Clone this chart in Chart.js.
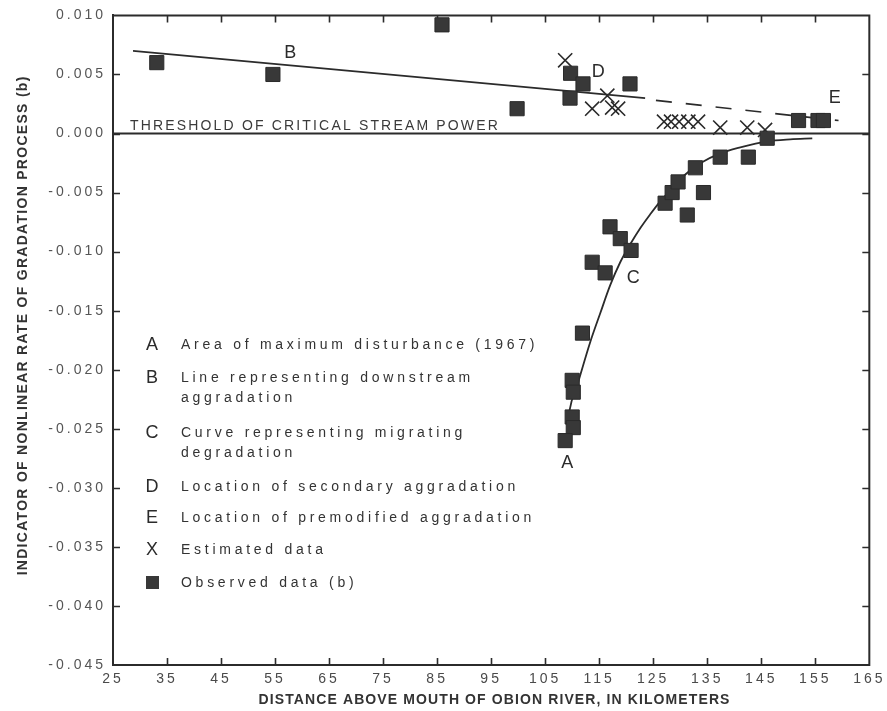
<!DOCTYPE html>
<html><head><meta charset="utf-8">
<script src="https://cdn.jsdelivr.net/npm/chart.js@4.4.1/dist/chart.umd.min.js"></script>
<style>html,body{margin:0;padding:0;background:#fff}canvas{display:block}</style>
</head><body>
<canvas id="c" width="887" height="711"></canvas>
<script>
// ---- axis settings ----
const xMin = 25, xMax = 165, xStep = 10;
const yMin = -0.045, yMax = 0.010, yStep = 0.005;

// ---- observed data (b), squares ----
const observedX = [33.1, 54.6, 85.9, 99.8, 109.7, 112.0, 109.6, 120.7, 151.9, 155.5, 156.5,
  111.9, 110.0, 110.2, 110.0, 110.2, 108.7, 113.7, 116.1, 117.0, 118.9, 120.9,
  127.2, 128.5, 129.6, 131.3, 132.8, 134.3, 137.4, 142.6, 146.1];
const observedY = [0.0060, 0.0050, 0.0092, 0.0021, 0.0051, 0.0042, 0.0030, 0.0042, 0.0011, 0.0011, 0.0011,
  -0.0169, -0.0209, -0.0219, -0.0240, -0.0249, -0.0260, -0.0109, -0.0118, -0.0079, -0.0089, -0.0099,
  -0.0059, -0.0050, -0.0041, -0.0069, -0.0029, -0.0050, -0.0020, -0.0020, -0.0004];

// ---- estimated data, X marks ----
const estimatedX = [108.7, 113.7, 116.5, 117.4, 118.5, 127.0, 128.3, 129.8, 131.5, 133.3, 137.4, 142.4, 145.7];
const estimatedY = [0.0062, 0.0021, 0.0032, 0.0022, 0.0021, 0.0010, 0.0010, 0.0010, 0.0010, 0.0010, 0.0005, 0.0005, 0.0003];

// ---- B: downstream aggradation line ----
const lineBX = [28.7, 123.5];
const lineBY = [0.0070, 0.0030];
// ---- dashed continuation toward E ----
const premodX = [125.5, 159.3];
const premodY = [0.0028, 0.0011];
// ---- C: migrating degradation curve ----
const curveCX = [109.2, 109.44, 111.11, 113.33, 115.19, 117.04, 118.89, 120.74, 122.59, 124.44, 126.30, 128.15, 130.56, 133.70, 137.41, 141.11, 146.11, 150.37, 154.44];
const curveCY = [-0.0245, -0.02359, -0.02105, -0.01767, -0.01522, -0.01284, -0.01090, -0.00938, -0.00802, -0.00684, -0.00574, -0.00481, -0.00362, -0.00252, -0.00168, -0.00117, -0.00066, -0.00049, -0.00041];
// ---- threshold of critical stream power ----
const thresholdX = [25, 165];
const thresholdY = [0, 0];

// ---- annotation letters (data coordinates) ----
const markLetters = ['A', 'B', 'C', 'D', 'E'];
const markX = [109.1, 57.8, 121.3, 114.8, 158.6];
const markY = [-0.0279, 0.0068, -0.0122, 0.0052, 0.0030];

// ---- texts ----
const legendKeys = ['A', 'B', 'C', 'D', 'E', 'X', '■'];
const legendTexts = [
  ['Area of maximum disturbance (1967)'],
  ['Line representing downstream', 'aggradation'],
  ['Curve representing migrating', 'degradation'],
  ['Location of secondary aggradation'],
  ['Location of premodified aggradation'],
  ['Estimated data'],
  ['Observed data (b)']
];
const thresholdLabel = 'THRESHOLD OF CRITICAL STREAM POWER';
const xTitle = 'DISTANCE ABOVE MOUTH OF OBION RIVER, IN KILOMETERS';
const yTitle = 'INDICATOR OF NONLINEAR RATE OF GRADATION PROCESS (b)';

function pts(xs, ys) { return xs.map((x, i) => ({ x: x, y: ys[i] })); }

const FONT = '"Liberation Sans", Arial, Helvetica, sans-serif';
const INK = '#2b2b2b';

function spacingFor(ctx, text, font, target) {
  ctx.letterSpacing = '0px';
  ctx.font = font;
  const w = ctx.measureText(text).width;
  return (target - w) / text.length;
}

const decor = {
  id: 'decor',
  beforeDraw(chart) {
    const ctx = chart.ctx;
    ctx.save();
    ctx.fillStyle = '#fff';
    ctx.fillRect(0, 0, chart.width, chart.height);
    ctx.restore();
    ctx.letterSpacing = '3px';
  },
  beforeDatasetsDraw(chart) {
    const ctx = chart.ctx;
    ctx.letterSpacing = '0px';
    const a = chart.chartArea;
    const xs = chart.scales.x, ys = chart.scales.y;
    ctx.save();
    ctx.strokeStyle = INK;
    ctx.lineWidth = 2;
    ctx.beginPath();
    ctx.moveTo(a.left - 1, a.top); ctx.lineTo(a.right, a.top); ctx.lineTo(a.right, a.bottom + 1);
    ctx.stroke();
    ctx.lineWidth = 1.6;
    ctx.beginPath();
    xs.ticks.forEach(t => {
      if (t.value <= xMin || t.value >= xMax) return;
      const px = Math.round(xs.getPixelForValue(t.value)) + 0.5;
      ctx.moveTo(px, a.bottom); ctx.lineTo(px, a.bottom - 7);
      ctx.moveTo(px, a.top); ctx.lineTo(px, a.top + 7);
    });
    ys.ticks.forEach(t => {
      if (t.value <= yMin + 1e-9 || t.value >= yMax - 1e-9) return;
      const py = Math.round(ys.getPixelForValue(t.value)) + 0.5;
      ctx.moveTo(a.left, py); ctx.lineTo(a.left + 7, py);
      ctx.moveTo(a.right, py); ctx.lineTo(a.right - 7, py);
    });
    ctx.stroke();
    ctx.restore();
  },
  afterDatasetsDraw(chart) {
    const ctx = chart.ctx;
    const xs = chart.scales.x, ys = chart.scales.y;
    ctx.save();
    ctx.fillStyle = INK;
    // letters on the plot
    ctx.letterSpacing = '0px';
    ctx.font = '18px ' + FONT;
    ctx.textAlign = 'center';
    ctx.textBaseline = 'middle';
    markLetters.forEach((m, i) => {
      ctx.fillText(m, xs.getPixelForValue(markX[i]), ys.getPixelForValue(markY[i]));
    });
    // threshold label
    const thFont = '14px ' + FONT;
    const thSp = spacingFor(ctx, thresholdLabel, thFont, 370);
    ctx.font = thFont;
    ctx.letterSpacing = thSp + 'px';
    ctx.textAlign = 'left';
    ctx.textBaseline = 'alphabetic';
    ctx.fillStyle = '#3a3a3a';
    ctx.fillText(thresholdLabel, 130, ys.getPixelForValue(0) - 4);
    // legend
    const rows = [345, 378, 433, 487, 518, 550, 583];
    const lgFont = '14px ' + FONT;
    const lgSp = spacingFor(ctx, legendTexts[3][0], lgFont, 338);
    legendKeys.forEach((k, i) => {
      const y = rows[i];
      ctx.fillStyle = INK;
      ctx.letterSpacing = '0px';
      ctx.textBaseline = 'middle';
      if (k === '■') {
        ctx.fillStyle = '#383838';
        ctx.fillRect(146, y - 7, 13, 13);
      } else {
        ctx.font = '18px ' + FONT;
        ctx.textAlign = 'center';
        ctx.fillText(k, 152, y);
      }
      ctx.fillStyle = '#333';
      ctx.font = lgFont;
      ctx.letterSpacing = lgSp + 'px';
      ctx.textAlign = 'left';
      legendTexts[i].forEach((line, j) => {
        ctx.fillText(line, 181, y + j * 20);
      });
    });
    ctx.restore();
  },
  afterDraw(chart) {
    const ctx = chart.ctx;
    ctx.save();
    ctx.fillStyle = '#333';
    const tf = 'bold 14px ' + FONT;
    const xsp = spacingFor(ctx, xTitle, tf, 472);
    ctx.font = tf;
    ctx.letterSpacing = xsp + 'px';
    ctx.textAlign = 'center';
    ctx.textBaseline = 'middle';
    ctx.fillText(xTitle, 494 + xsp / 2, 700);
    const ysp = spacingFor(ctx, yTitle, tf, 500);
    ctx.font = tf;
    ctx.letterSpacing = ysp + 'px';
    ctx.translate(23, 326);
    ctx.rotate(-Math.PI / 2);
    ctx.fillText(yTitle, ysp / 2, 0);
    ctx.restore();
    ctx.letterSpacing = '0px';
  }
};

new Chart(document.getElementById('c'), {
  type: 'scatter',
  data: {
    datasets: [
      { label: 'Observed data (b)', data: pts(observedX, observedY), order: 1,
        pointStyle: 'rect', pointRadius: 10, backgroundColor: '#383838', borderColor: '#2a2a2a', borderWidth: 1, showLine: false },
      { label: 'Estimated data', data: pts(estimatedX, estimatedY), order: 2,
        pointStyle: 'crossRot', pointRadius: 10, borderColor: '#2a2a2a', borderWidth: 1.6, showLine: false },
      { label: 'B', data: pts(lineBX, lineBY), order: 3, showLine: true, pointRadius: 0,
        borderColor: INK, borderWidth: 1.7 },
      { label: 'E', data: pts(premodX, premodY), order: 4, showLine: true, pointRadius: 0,
        borderColor: INK, borderWidth: 1.7, borderDash: [16, 14] },
      { label: 'C', data: pts(curveCX, curveCY), order: 5, showLine: true, pointRadius: 0,
        borderColor: INK, borderWidth: 1.8, cubicInterpolationMode: 'monotone' },
      { label: 'Threshold', data: pts(thresholdX, thresholdY), order: 6, showLine: true, pointRadius: 0,
        borderColor: INK, borderWidth: 2 }
    ]
  },
  options: {
    responsive: false,
    animation: false,
    events: [],
    layout: { padding: { top: 15, right: 16, left: 0, bottom: 0 } },
    plugins: { legend: { display: false }, tooltip: { enabled: false }, title: { display: false } },
    scales: {
      x: {
        type: 'linear', min: xMin, max: xMax,
        grid: { display: false, drawTicks: false },
        border: { display: true, color: INK, width: 2 },
        ticks: { stepSize: xStep, color: '#4a4a4a', padding: 6, maxRotation: 0, autoSkip: false,
          font: { family: FONT, size: 14 } },
        afterFit(s) { s.height = 46; }
      },
      y: {
        type: 'linear', min: yMin, max: yMax,
        grid: { display: false, drawTicks: false },
        border: { display: true, color: INK, width: 2 },
        ticks: { stepSize: yStep, color: '#555', padding: 7, autoSkip: false,
          font: { family: FONT, size: 14 },
          callback: v => (Math.abs(v) < 1e-9 ? 0 : v).toFixed(3) },
        afterFit(s) { s.width = 113; }
      }
    }
  },
  plugins: [decor]
});
</script>
</body></html>
